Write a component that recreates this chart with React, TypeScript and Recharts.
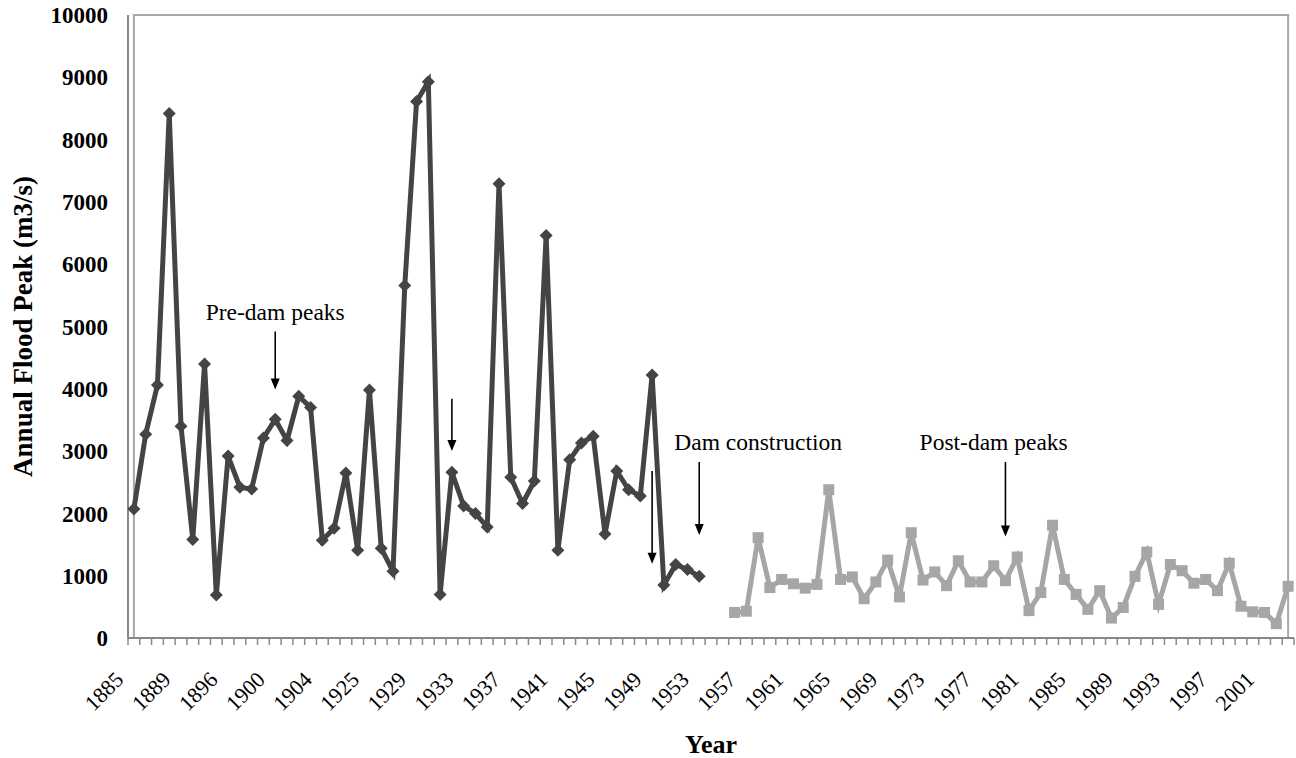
import React from "react";
import {
  LineChart,
  Line,
  XAxis,
  YAxis,
  ReferenceArea,
  ReferenceLine,
  ReferenceDot,
  Label,
} from "recharts";

// categories (years with records; gaps in the early record)
const years = [
  1885, 1886, 1887, 1888, 1889, 1891, 1893, 1895, 1896, 1897, 1898, 1899,
  1900, 1901, 1902, 1903, 1904, 1906, 1914, 1920, 1925, 1926, 1927, 1928,
  1929, 1930, 1931, 1932, 1933, 1934, 1935, 1936, 1937, 1938, 1939, 1940,
  1941, 1942, 1943, 1944, 1945, 1946, 1947, 1948, 1949, 1950, 1951, 1952,
  1953, 1954, 1955, 1956, 1957, 1958, 1959, 1960, 1961, 1962, 1963, 1964,
  1965, 1966, 1967, 1968, 1969, 1970, 1971, 1972, 1973, 1974, 1975, 1976,
  1977, 1978, 1979, 1980, 1981, 1982, 1983, 1984, 1985, 1986, 1987, 1988,
  1989, 1990, 1991, 1992, 1993, 1994, 1995, 1996, 1997, 1998, 1999, 2000,
  2001, 2002, 2003,
];

// pre-dam peaks, 1885 .. 1953
const preDamPeaks = [
  2070, 3270, 4060, 8420, 3400, 1580, 4400, 690, 2920, 2420,
  2390, 3210, 3510, 3170, 3880, 3700, 1570, 1760, 2650, 1410,
  3980, 1440, 1070, 5660, 8610, 8930, 700, 2660, 2120, 2000,
  1780, 7290, 2580, 2160, 2520, 6460, 1410, 2860, 3130, 3240,
  1670, 2680, 2380, 2280, 4220, 850, 1180, 1100, 990,
];

// post-dam peaks, 1956 .. 2003
const postDamStart = 1956;
const postDamPeaks = [
  410, 430, 1610, 810, 940, 870, 800, 860, 2380, 940,
  980, 630, 900, 1250, 660, 1690, 930, 1060, 840, 1240,
  900, 900, 1160, 920, 1300, 440, 730, 1810, 940, 700,
  460, 760, 320, 490, 990, 1380, 540, 1180, 1080, 880,
  940, 760, 1200, 510, 420, 410, 230, 830,
];

const yTicks = [0, 1000, 2000, 3000, 4000, 5000, 6000, 7000, 8000, 9000, 10000];

// annotation arrows: year, start value, tip value
const arrows = [
  { year: 1900, from: 4920, to: 3990 },
  { year: 1932, from: 3840, to: 3000 },
  { year: 1949, from: 2680, to: 1190 },
  { year: 1953, from: 2825, to: 1655 },
  { year: 1979, from: 2825, to: 1630 },
];

const notes = [
  { year: 1900, value: 5110, text: "Pre-dam peaks" },
  { year: 1958, value: 3010, text: "Dam construction" },
  { year: 1978, value: 3010, text: "Post-dam peaks" },
];

const postStartIdx = years.indexOf(postDamStart);
const data = years.map((y, i) => ({
  year: String(y),
  pre: i < preDamPeaks.length ? preDamPeaks[i] : null,
  post:
    i >= postStartIdx && i - postStartIdx < postDamPeaks.length
      ? postDamPeaks[i - postStartIdx]
      : null,
}));

const W = 1296;
const H = 758;
const MARGIN = { top: 15, right: 2, left: 0, bottom: 0 };
const Y_W = 128;
const X_H = 120;
const BW = (W - MARGIN.left - MARGIN.right - Y_W) / years.length;
const serif = "'Liberation Serif', 'Times New Roman', serif";
const serifStyle = { fontFamily: serif };

const YearTick = (props: any) => {
  const { x, y, payload } = props;
  const i = payload?.index ?? props.index;
  const half = BW / 2;
  const ax = x - 9;
  const ay = y + 43;
  return (
    <g>
      <line x1={x - half} y1={y} x2={x - half} y2={y + 7} stroke="#888" strokeWidth={1.5} />
      {i === years.length - 1 && (
        <line x1={x + half} y1={y} x2={x + half} y2={y + 7} stroke="#888" strokeWidth={1.5} />
      )}
      {i % 4 === 0 && (
        <text
          x={ax}
          y={ay}
          transform={`rotate(-45 ${ax} ${ay})`}
          textAnchor="end"
          fontSize={22}
          style={serifStyle}
          fill="#000"
        >
          {payload.value}
        </text>
      )}
    </g>
  );
};

const Diamond = (props: any) => {
  const { cx, cy, index } = props;
  if (cx == null || cy == null || props.value == null) return <g key={`pd-${index}`} />;
  const r = 6.5;
  return (
    <path
      key={`pd-${index}`}
      d={`M${cx},${cy - r} L${cx + r},${cy} L${cx},${cy + r} L${cx - r},${cy} Z`}
      fill="#444"
    />
  );
};

const Square = (props: any) => {
  const { cx, cy, index } = props;
  if (cx == null || cy == null || props.value == null) return <g key={`sq-${index}`} />;
  const r = 5.5;
  return <rect key={`sq-${index}`} x={cx - r} y={cy - r} width={2 * r} height={2 * r} fill="#a6a6a6" />;
};

const Arrow = (props: any) => {
  const { x1, y1, y2 } = props;
  if (x1 == null) return <g />;
  const top = Math.min(y1, y2);
  const tip = Math.max(y1, y2);
  return (
    <g>
      <line x1={x1} y1={top} x2={x1} y2={tip - 9} stroke="#000" strokeWidth={1.6} />
      <path d={`M${x1 - 4.5},${tip - 11} L${x1 + 4.5},${tip - 11} L${x1},${tip} Z`} fill="#000" />
    </g>
  );
};

const YTitle = (props: any) => {
  const vb = props.viewBox || { x: 0, y: 15, width: Y_W, height: 623 };
  const x = vb.x + 32;
  const y = vb.y + vb.height / 2;
  return (
    <text
      x={x}
      y={y}
      transform={`rotate(-90 ${x} ${y})`}
      textAnchor="middle"
      fontSize={27}
      fontWeight="bold"
      style={serifStyle}
      fill="#000"
    >
      Annual Flood Peak (m3/s)
    </text>
  );
};

const XTitle = (props: any) => {
  const vb = props.viewBox || { x: Y_W, y: 638, width: 1166, height: X_H };
  return (
    <text
      x={vb.x + vb.width / 2}
      y={vb.y + 115}
      textAnchor="middle"
      fontSize={26}
      fontWeight="bold"
      style={serifStyle}
      fill="#000"
    >
      Year
    </text>
  );
};

export default function App() {
  return (
    <div style={{ position: "absolute", left: 0, top: 0, background: "#fff" }}>
      <LineChart width={W} height={H} data={data} margin={MARGIN}>
        <ReferenceArea
          y1={0}
          y2={10000}
          fill="none"
          stroke="#a8a8a8"
          strokeWidth={2}
          ifOverflow="extendDomain"
        />
        <XAxis
          dataKey="year"
          type="category"
          interval={0}
          height={X_H}
          padding={{ left: BW / 2, right: BW / 2 }}
          tickLine={false}
          tickSize={0}
          tickMargin={0}
          axisLine={{ stroke: "#888", strokeWidth: 2 }}
          tick={<YearTick />}
        >
          <Label content={<XTitle />} />
        </XAxis>
        <YAxis
          type="number"
          domain={[0, 10000]}
          ticks={yTicks}
          interval={0}
          width={Y_W}
          tickLine={false}
          tickSize={0}
          tickMargin={20}
          axisLine={{ stroke: "#888", strokeWidth: 2 }}
          tick={{ fill: "#000", fontSize: 23, fontWeight: "bold", fontFamily: serif }}
        >
          <Label content={<YTitle />} />
        </YAxis>
        <Line
          dataKey="pre"
          stroke="#444"
          strokeWidth={5}
          dot={Diamond}
          activeDot={false}
          connectNulls={false}
          isAnimationActive={false}
        />
        <Line
          dataKey="post"
          stroke="#a6a6a6"
          strokeWidth={5}
          dot={Square}
          activeDot={false}
          connectNulls={false}
          isAnimationActive={false}
        />
        {arrows.map((a) => (
          <ReferenceLine
            key={`ar-${a.year}`}
            segment={[
              { x: String(a.year), y: a.from },
              { x: String(a.year), y: a.to },
            ]}
            stroke="#000"
            shape={Arrow}
          />
        ))}
        {notes.map((n) => (
          <ReferenceDot
            key={`nt-${n.year}`}
            x={String(n.year)}
            y={n.value}
            r={0}
            shape={(p: any) => (
              <text
                x={p.cx}
                y={p.cy}
                textAnchor="middle"
                fontSize={23.5}
                style={serifStyle}
                fill="#000"
              >
                {n.text}
              </text>
            )}
          />
        ))}
      </LineChart>
    </div>
  );
}
